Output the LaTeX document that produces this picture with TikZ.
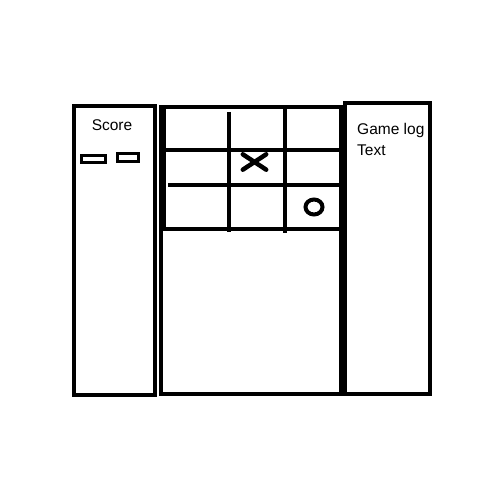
\documentclass[tikz,border=0pt]{standalone}
\usepackage{fontspec}
\setmainfont{Liberation Sans}
\begin{document}
\begin{tikzpicture}[x=1pt,y=-1pt,
  panel/.style={draw=black,line width=4pt},
  gridline/.style={draw=black,line width=3.5pt},
  lbl/.style={inner sep=0pt,font=\fontsize{15.5pt}{21pt}\selectfont}]
\useasboundingbox (0,0) rectangle (500,500);
% panels
\draw[panel] (74,106) rectangle (155,395);
\draw[panel] (161,107) rectangle (341,394);
\draw[panel] (345,103) rectangle (430,394);
\draw[line width=3pt] (344,103) -- (344,394);
\draw[line width=4pt] (164,107) -- (164,231);
% score
\node[lbl,anchor=base] (score) at (112,130) {Score};
\draw[line width=3pt] (81,155) rectangle (105,162);
\draw[line width=3pt] (117,153) rectangle (138,161);
% game log
\node[lbl,anchor=north west,align=left] (log) at (357,123) {Game log\\Text};
% grid
\draw[gridline] (229,112) -- (229,232);
\draw[gridline] (285,107) -- (285,233);
\draw[gridline] (165,150) -- (340,150);
\draw[gridline] (168,185) -- (340,185);
\draw[gridline] (162,229) -- (340,229);
% X and O
\node[inner sep=0pt,minimum width=23pt,minimum height=15pt] (xcell) at (254.5,162) {};
\draw[line width=4.5pt,line cap=round] (xcell.north west) -- (xcell.south east);
\draw[line width=4.5pt,line cap=round] (xcell.south west) -- (xcell.north east);
\coordinate (ocell) at (314,207);
\draw[line width=4pt] (ocell) ellipse [x radius=8.5pt,y radius=7.5pt];
\end{tikzpicture}
\end{document}
